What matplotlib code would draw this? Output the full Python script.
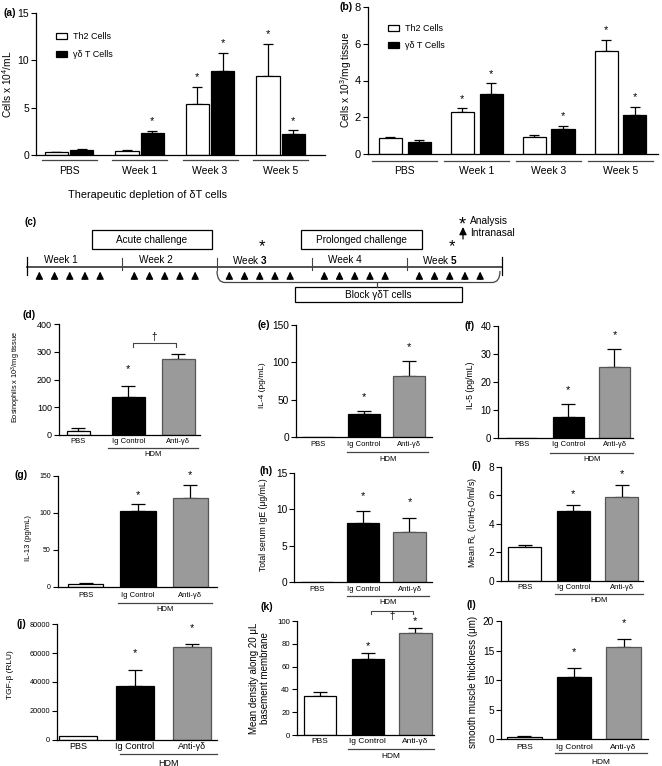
import matplotlib
matplotlib.use('Agg')
import matplotlib.pyplot as plt
import numpy as np
from matplotlib.patches import Rectangle, PathPatch, Patch
from matplotlib.path import Path
from matplotlib.transforms import blended_transform_factory

plt.rcParams['font.family'] = ['Liberation Sans', 'DejaVu Sans']
plt.rcParams['mathtext.fontset'] = 'custom'
plt.rcParams['mathtext.rm'] = 'Liberation Sans'
plt.rcParams['mathtext.it'] = 'Liberation Sans:italic'
plt.rcParams['mathtext.bf'] = 'Liberation Sans:bold'

# ------------------------------------------------------------------ data
weeks = ["PBS", "Week 1", "Week 3", "Week 5"]
series = ["Th2 Cells", "γδ T Cells"]

a_th2 = [0.28, 0.39, 5.44, 8.32]
a_th2_err = [0.07, 0.17, 1.73, 3.38]
a_gd = [0.56, 2.32, 8.92, 2.21]
a_gd_err = [0.09, 0.24, 1.90, 0.39]
a_sig_th2 = [False, False, True, True]
a_sig_gd = [False, True, True, True]

b_th2 = [0.85, 2.26, 0.92, 5.61]
b_th2_err = [0.09, 0.22, 0.11, 0.62]
b_gd = [0.63, 3.26, 1.38, 2.10]
b_gd_err = [0.11, 0.58, 0.16, 0.45]
b_sig_th2 = [False, True, False, True]
b_sig_gd = [False, True, True, True]

timeline_weeks = ["Week 1", "Week 2", "Week $\\mathbf{3}$", "Week 4", "Week $\\mathbf{5}$"]
challenges_per_week = 5
analysis_weeks = [3, 5]

groups = ["PBS", "Ig Control", "Anti-γδ"]
treatment = "HDM"

d_vals = [14.4, 135.7, 272.7]
d_err = [9.6, 40.9, 19.3]
e_vals = [0, 30.7, 81.9]
e_err = [0, 4.5, 20.5]
f_vals = [0, 7.7, 25.2]
f_err = [0, 4.6, 6.5]
g_vals = [3.2, 103.0, 119.7]
g_err = [2.2, 8.6, 18.1]
h_vals = [0, 8.17, 6.92]
h_err = [0, 1.61, 1.94]
i_vals = [2.40, 4.90, 5.85]
i_err = [0.12, 0.42, 0.84]
j_vals = [2500, 37500, 64000]
j_err = [0, 11000, 2100]
k_vals = [33.9, 66.4, 89.8]
k_err = [4.1, 5.2, 3.8]
l_vals = [0.34, 10.6, 15.55]
l_err = [0.28, 1.5, 1.45]

# ------------------------------------------------------------------ figure
W, H = 662, 766
fig = plt.figure(figsize=(W / 100, H / 100), dpi=100)
fig.patch.set_facecolor('white')

GREY = '#9a9a9a'


def fy(ypx):
    return 1 - ypx / H


def px_ax(x0, y0, x1, y1):
    return fig.add_axes([x0 / W, fy(y1), (x1 - x0) / W, (y1 - y0) / H])


def style_ax(ax, ylim, yticks, tick_fs, xlim):
    ax.set_xlim(*xlim)
    ax.set_ylim(*ylim)
    ax.set_yticks(yticks)
    ax.set_xticks([])
    for s in ('top', 'right'):
        ax.spines[s].set_visible(False)
    ax.spines['left'].set_linewidth(0.9)
    ax.spines['bottom'].set_linewidth(0.9)
    ax.tick_params(axis='y', direction='out', length=3.5, width=0.8,
                   labelsize=tick_fs, pad=1.5)
    ax.patch.set_alpha(0)


def ylab(ax, text, xpx, ypx, fs):
    ax.set_ylabel(text, fontsize=fs)
    ax.yaxis.set_label_coords(xpx / W, fy(ypx), transform=fig.transFigure)
    ax.yaxis.label.set_va('center')


def star(ax, x, ytop, off, fs=8):
    ax.annotate('*', xy=(x, ytop), xytext=(0, off), textcoords='offset points',
                ha='center', va='center', fontsize=fs, annotation_clip=False)


def bar_err(ax, x, v, e, w, color, edge='black', capsize=4):
    ax.bar(x, v, width=w, color=color, edgecolor=edge, linewidth=0.9, zorder=2)
    e = np.asarray(e, dtype=float)
    v = np.asarray(v, dtype=float)
    m = e > 0
    if m.any():
        ax.errorbar(np.asarray(x)[m], v[m], yerr=[np.zeros(m.sum()), e[m]], fmt='none',
                    ecolor='black', elinewidth=0.9, capsize=capsize, capthick=0.9, zorder=1)


def panel_label(text, xpx, ypx, fs=7.5):
    fig.text(xpx / W, fy(ypx), text, ha='center', va='center', fontsize=fs, fontweight='bold')


# ------------------------------------------------------------------ (a)
ax = px_ax(36, 13, 325, 155)
style_ax(ax, (0, 15), [0, 5, 10, 15], 7.5, (-0.47, 3.63))
x = np.arange(len(weeks))
bar_err(ax, x - 0.18, a_th2, a_th2_err, 0.33, 'white', capsize=3.5)
bar_err(ax, x + 0.18, a_gd, a_gd_err, 0.33, 'black', capsize=3.5)
for i in range(len(weeks)):
    if a_sig_th2[i]:
        star(ax, x[i] - 0.18, a_th2[i] + a_th2_err[i], 7)
    if a_sig_gd[i]:
        star(ax, x[i] + 0.18, a_gd[i] + a_gd_err[i], 7)
tr = blended_transform_factory(ax.transData, fig.transFigure)
for i, wk in enumerate(weeks):
    ax.plot([x[i] - 0.39, x[i] + 0.39], [fy(160), fy(160)], color='#444444', lw=0.9,
            transform=tr, clip_on=False)
    ax.text(x[i], fy(170.5), wk, transform=tr, ha='center', va='center', fontsize=7.5)
ylab(ax, 'Cells x 10$^4$/mL', 7.5, 84, 7.3)
handles = [Patch(facecolor='white', edgecolor='black', linewidth=0.9),
           Patch(facecolor='black', edgecolor='black', linewidth=0.9)]
ax.legend(handles, series, loc='upper left', bbox_to_anchor=(56 / W, fy(32)),
          bbox_transform=fig.transFigure, frameon=False, fontsize=6.5,
          handlelength=1.25, handleheight=0.7, handletextpad=0.6, labelspacing=1.0,
          borderpad=0, borderaxespad=0)
panel_label('(a)', 10, 13)

# ------------------------------------------------------------------ (b)
ax = px_ax(368, 7, 658, 154)
style_ax(ax, (0, 8), [0, 2, 4, 6, 8], 8, (-0.51, 3.52))
bar_err(ax, x - 0.2, b_th2, b_th2_err, 0.32, 'white', capsize=3.5)
bar_err(ax, x + 0.2, b_gd, b_gd_err, 0.32, 'black', capsize=3.5)
for i in range(len(weeks)):
    if b_sig_th2[i]:
        star(ax, x[i] - 0.2, b_th2[i] + b_th2_err[i], 7)
    if b_sig_gd[i]:
        star(ax, x[i] + 0.2, b_gd[i] + b_gd_err[i], 7)
tr = blended_transform_factory(ax.transData, fig.transFigure)
for i, wk in enumerate(weeks):
    ax.plot([x[i] - 0.45, x[i] + 0.45], [fy(160.7), fy(160.7)], color='#444444', lw=0.9,
            transform=tr, clip_on=False)
    ax.text(x[i], fy(170.5), wk, transform=tr, ha='center', va='center', fontsize=7.5)
ylab(ax, 'Cells x 10$^3$/mg tissue', 346, 80, 7.3)
ax.legend(handles, series, loc='upper left', bbox_to_anchor=(388 / W, fy(24)),
          bbox_transform=fig.transFigure, frameon=False, fontsize=6.5,
          handlelength=1.25, handleheight=0.7, handletextpad=0.6, labelspacing=0.9,
          borderpad=0, borderaxespad=0)
panel_label('(b)', 346, 7)

# ------------------------------------------------------------------ overlay (c)
ov = fig.add_axes([0, 0, 1, 1], zorder=10)
ov.set_xlim(0, W)
ov.set_ylim(H, 0)
ov.axis('off')

ov.text(68, 195, 'Therapeutic depletion of δT cells', ha='left', va='center', fontsize=7.8)
panel_label('(c)', 31, 222, fs=7)

x0, seg, yline = 27, 95, 266.5
nweeks = len(timeline_weeks)
ov.plot([x0, x0 + seg * nweeks], [yline, yline], color='#444444', lw=1.3)
for k in range(nweeks + 1):
    xx = x0 + seg * k
    if k in (0, nweeks):
        ov.plot([xx, xx], [257, 275], color='black', lw=0.9)
    else:
        ov.plot([xx, xx], [257.5, 270], color='#444444', lw=0.8)
label_shift = [34, 34, 33, 33, 33]
for k, wk in enumerate(timeline_weeks):
    ov.text(x0 + seg * k + label_shift[k], 260, wk, ha='center', va='center', fontsize=7.2)
    for dd in range(challenges_per_week):
        xx = x0 + seg * k + seg * (0.13 + 0.16 * dd)
        ov.annotate('', xy=(xx, 271.5), xytext=(xx, 279.5),
                    arrowprops=dict(arrowstyle='-|>,head_length=0.45,head_width=0.22',
                                    color='black', lw=0.9, shrinkA=0, shrinkB=0))
for wk in analysis_weeks:
    ov.text(x0 + seg * (wk - 1) + 45, 247, '*', ha='center', va='center', fontsize=12)

for (bx0, by0, bx1, by1, txt) in [(92, 230, 212, 249, 'Acute challenge'),
                                  (301, 230, 422, 249, 'Prolonged challenge'),
                                  (295, 287, 462, 302, 'Block γδT cells')]:
    ov.add_patch(Rectangle((bx0, by0), bx1 - bx0, by1 - by0, facecolor='white',
                           edgecolor='black', lw=0.9))
    ov.text((bx0 + bx1) / 2, (by0 + by1) / 2 + 0.5, txt, ha='center', va='center', fontsize=7.2)

bx_l, bx_r, by_t, by_b = x0 + seg * 2, x0 + seg * 5 - 2, 271, 282.5
brace = Path([(bx_l, by_t), (bx_l, by_b), (bx_l + 8, by_b), (bx_r - 8, by_b),
              (bx_r, by_b), (bx_r, by_t)],
             [Path.MOVETO, Path.CURVE3, Path.CURVE3, Path.LINETO, Path.CURVE3, Path.CURVE3])
ov.add_patch(PathPatch(brace, facecolor='none', edgecolor='#444444', lw=0.9))
ov.plot([377, 377], [by_b, 287], color='#444444', lw=0.9)

ov.text(462, 225, '*', ha='center', va='center', fontsize=13)
ov.text(470, 221, 'Analysis', ha='left', va='center', fontsize=7.3)
ov.annotate('', xy=(463, 227), xytext=(463, 239),
            arrowprops=dict(arrowstyle='-|>,head_length=0.45,head_width=0.22',
                            color='black', lw=0.9, shrinkA=0, shrinkB=0))
ov.text(470, 233.5, 'Intranasal', ha='left', va='center', fontsize=7.3)

# ------------------------------------------------------------------ lower panels
panels = [
    dict(lab='(d)', lpos=(29, 315), box=(59, 324, 200, 435), vals=d_vals, err=d_err,
         ylim=(0, 400), yticks=[0, 100, 200, 300, 400], tfs=6.5, xlim=(-0.385, 2.43),
         widths=[0.46, 0.66, 0.66], ylabel='Eosinophils x 10$^3$/mg tissue', ylpos=(16, 377),
         ylfs=5.3, stars=[False, True, False], soff=12, caty=441.7, catfs=5.5,
         hdmy=448, hdmty=455, hdmx=(0.59, 2.39)),
    dict(lab='(e)', lpos=(263.3, 325), box=(296, 325, 432, 437.3), vals=e_vals, err=e_err,
         ylim=(0, 150), yticks=[0, 50, 100, 150], tfs=7.3, xlim=(-0.49, 2.5),
         widths=[0.7, 0.7, 0.7], ylabel='IL-4 (pg/mL)', ylpos=(262.7, 385), ylfs=6,
         stars=[False, True, True], soff=10, caty=445, catfs=5.5,
         hdmy=451.7, hdmty=459, hdmx=(0.63, 2.42)),
    dict(lab='(f)', lpos=(470, 325.7), box=(498.3, 325.7, 633, 438.3), vals=f_vals, err=f_err,
         ylim=(0, 40), yticks=[0, 10, 20, 30, 40], tfs=7, xlim=(-0.51, 2.4),
         widths=[0.67, 0.67, 0.67], ylabel='IL-5 (pg/mL)', ylpos=(470.7, 385), ylfs=6.3,
         stars=[False, True, True], soff=10, caty=445, catfs=5.5,
         hdmy=453, hdmty=459, hdmx=(0.61, 2.41)),
    dict(lab='(g)', lpos=(21, 475), box=(57.7, 476, 216.7, 586.7), vals=g_vals, err=g_err,
         ylim=(0, 150), yticks=[0, 50, 100, 150], tfs=5, xlim=(-0.53, 2.5),
         widths=[0.67, 0.67, 0.67], ylabel='IL-13 (pg/mL)', ylpos=(28.3, 538), ylfs=5.5,
         stars=[False, True, True], soff=7, caty=595.7, catfs=5.5,
         hdmy=602.7, hdmty=609.5, hdmx=(0.62, 2.41)),
    dict(lab='(h)', lpos=(266, 470.7), box=(294.3, 473.3, 431.7, 581.7), vals=h_vals, err=h_err,
         ylim=(0, 15), yticks=[0, 5, 10, 15], tfs=7.3, xlim=(-0.49, 2.48),
         widths=[0.7, 0.7, 0.7], ylabel='Total serum IgE (μg/mL)', ylpos=(263.3, 525), ylfs=6.2,
         stars=[False, True, True], soff=11, caty=589.3, catfs=5.5,
         hdmy=595.7, hdmty=602.3, hdmx=(0.64, 2.42)),
    dict(lab='(i)', lpos=(476.7, 466), box=(501, 466.7, 643, 581), vals=i_vals, err=i_err,
         ylim=(0, 8), yticks=[0, 2, 4, 6, 8], tfs=7.3, xlim=(-0.49, 2.44),
         widths=[0.68, 0.68, 0.68], ylabel='Mean R$_\\mathrm{L}$ (cmH$_2$O/ml/s)',
         ylpos=(472.7, 522.7), ylfs=6.3, stars=[False, True, True], soff=8, caty=587.3,
         catfs=5.5, hdmy=594.3, hdmty=601, hdmx=(0.62, 2.43)),
    dict(lab='(j)', lpos=(21.7, 624.3), box=(57.3, 624.3, 216.7, 739.7), vals=j_vals, err=j_err,
         ylim=(0, 80000), yticks=[0, 20000, 40000, 60000, 80000], tfs=5.3, xlim=(-0.36, 2.43),
         widths=[0.67, 0.67, 0.67], ylabel='TGF-β (RLU)', ylpos=(10.7, 675), ylfs=6,
         stars=[False, True, True], soff=12, caty=746.7, catfs=6.5,
         hdmy=754.3, hdmty=763, hdmx=(0.74, 2.43)),
    dict(lab='(k)', lpos=(266.7, 606.7), box=(296.7, 621, 434, 735), vals=k_vals, err=k_err,
         ylim=(0, 100), yticks=[0, 20, 40, 60, 80, 100], tfs=5.6, xlim=(-0.49, 2.39),
         widths=[0.68, 0.68, 0.68], ylabel='Mean density along 20 μL\nbasement membrane',
         ylpos=(259.5, 678), ylfs=7, stars=[False, True, True], soff=5.5, caty=741.7,
         catfs=6, hdmy=749, hdmty=756.7, hdmx=(0.59, 2.39)),
    dict(lab='(l)', lpos=(471.7, 605), box=(501, 621, 648, 739.3), vals=l_vals, err=l_err,
         ylim=(0, 20), yticks=[0, 5, 10, 15, 20], tfs=7.3, xlim=(-0.47, 2.49),
         widths=[0.7, 0.7, 0.7], ylabel='smooth muscle thickness (μm)', ylpos=(472.7, 681.7),
         ylfs=7, stars=[False, True, True], soff=11, caty=747.7, catfs=6,
         hdmy=753, hdmty=762.7, hdmx=(0.62, 2.47)),
]

colors = ['white', 'black', GREY]
edges = ['black', 'black', '#555555']
for p in panels:
    ax = px_ax(*p['box'])
    style_ax(ax, p['ylim'], p['yticks'], p['tfs'], p['xlim'])
    xs = np.arange(len(groups))
    for i in range(len(groups)):
        bar_err(ax, [xs[i]], [p['vals'][i]], [p['err'][i]], p['widths'][i], colors[i],
                edge=edges[i], capsize=5)
        if p['stars'][i]:
            star(ax, xs[i], p['vals'][i] + p['err'][i], p['soff'])
    tr = blended_transform_factory(ax.transData, fig.transFigure)
    for i, g in enumerate(groups):
        ax.text(xs[i], fy(p['caty']), g, transform=tr, ha='center', va='center',
                fontsize=p['catfs'])
    ax.plot(p['hdmx'], [fy(p['hdmy'])] * 2, color='#444444', lw=0.9, transform=tr,
            clip_on=False)
    ax.text(np.mean(p['hdmx']), fy(p['hdmty']), treatment, transform=tr, ha='center',
            va='center', fontsize=p['catfs'])
    ylab(ax, p['ylabel'], p['ylpos'][0], p['ylpos'][1], p['ylfs'])
    panel_label(p['lab'], *p['lpos'])
    if p['lab'] == '(d)':
        ax.plot([1.09, 1.09, 1.95, 1.95], [318, 330, 330, 318], color='#444444', lw=0.8,
                clip_on=False)
        ax.text(1.52, 352, '†', ha='center', va='center', fontsize=7)
    if p['lab'] == '(k)':
        ax.plot([1.06, 1.06, 1.94, 1.94], [105.8, 108.8, 108.8, 105.8], color='#444444',
                lw=0.8, clip_on=False)
        ax.text(1.5, 104, '†', ha='center', va='center', fontsize=7)

fig.savefig('out.png', dpi=100, facecolor='white')
